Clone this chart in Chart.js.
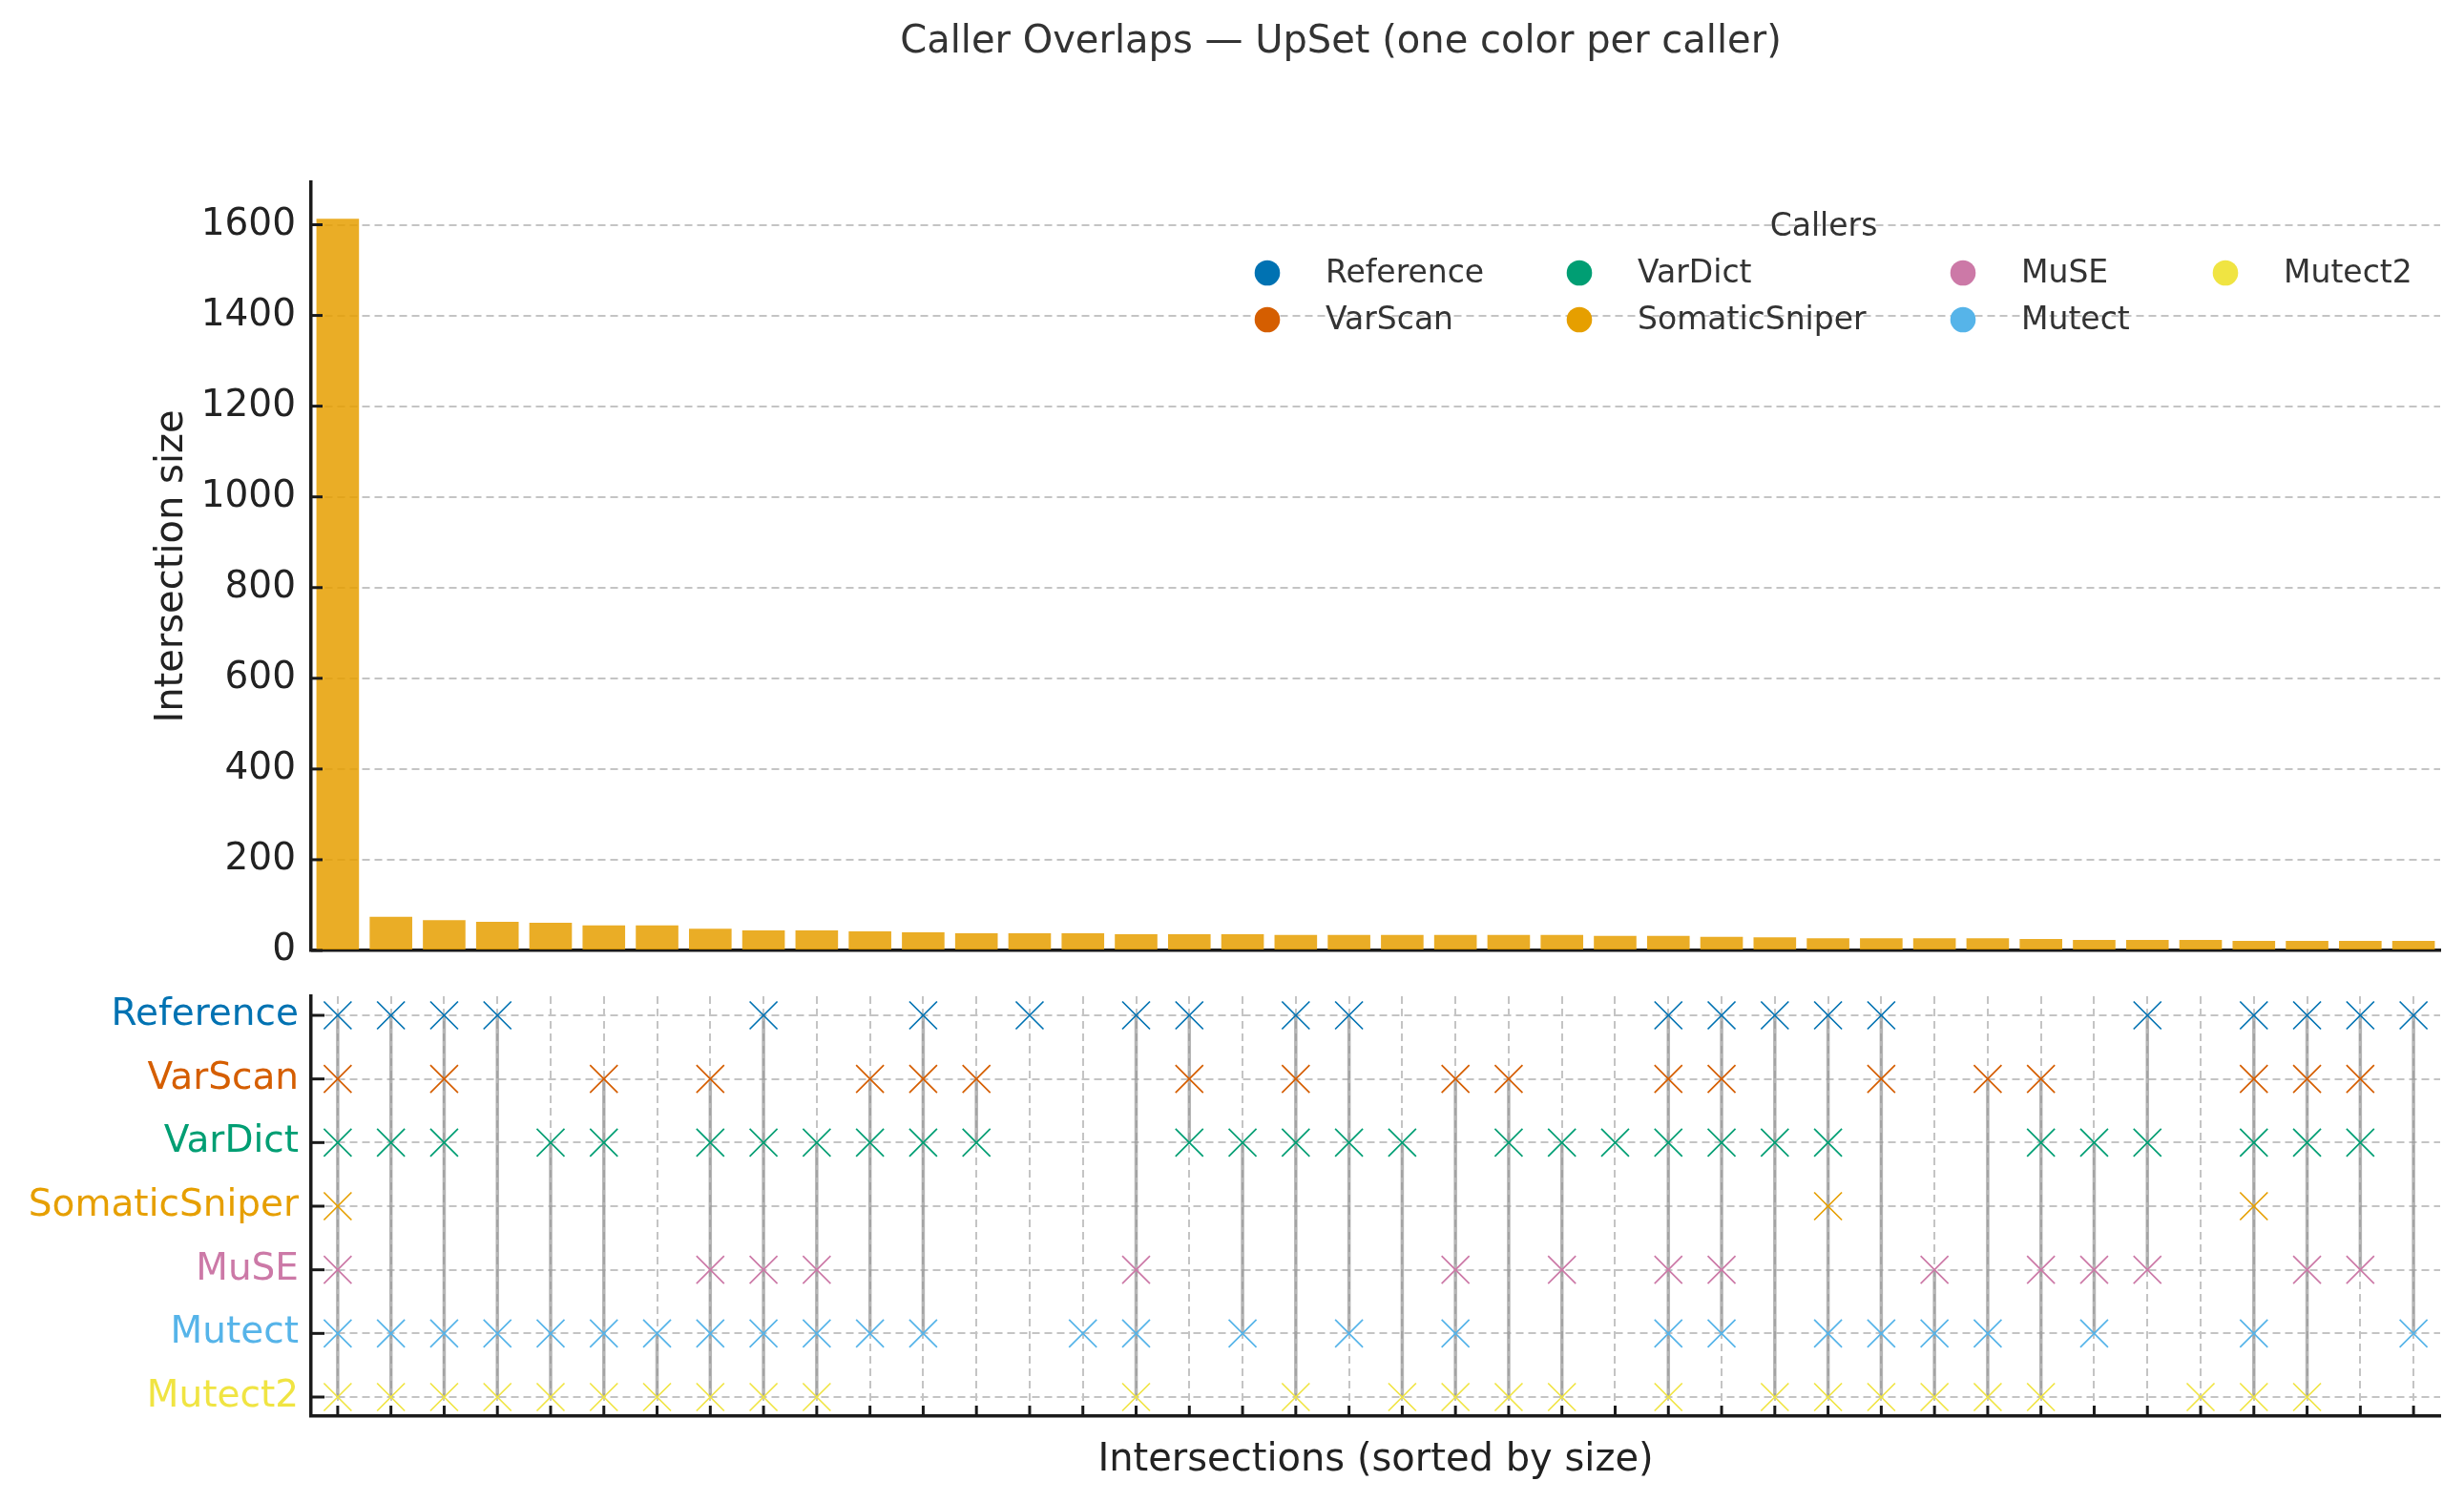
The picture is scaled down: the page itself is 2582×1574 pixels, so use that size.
<!DOCTYPE html>
<html>
<head>
<meta charset="utf-8">
<script src="https://cdn.jsdelivr.net/npm/chart.js@4.4.1/dist/chart.umd.min.js"></script>
<style>
  html, body { margin: 0; padding: 0; background: #ffffff; }
  #wrap { position: relative; width: 2582px; height: 1574px; overflow: hidden; background: #fff; }
  canvas { position: absolute; left: 0; }
  #bars { top: 0; }
  #matrix { top: 1020px; }
</style>
</head>
<body>
<div id="wrap">
  <canvas id="bars" width="2582" height="1020"></canvas>
  <canvas id="matrix" width="2582" height="554"></canvas>
</div>
<script>
// ---------------- DATA ----------------
const callers = ['Reference', 'VarScan', 'VarDict', 'SomaticSniper', 'MuSE', 'Mutect', 'Mutect2'];
const callerColors = ['#0072B2', '#D55E00', '#009E73', '#E69F00', '#CC79A7', '#56B4E9', '#F0E442'];

// intersection sizes, sorted by size (40 intersections)
const intersectionSizes = [
  1613, 74, 67, 63, 61, 55, 55, 48, 44, 44,
  42, 40, 38, 38, 38, 36, 36, 36, 34, 34,
  34, 34, 34, 34, 32, 32, 30, 29, 27, 27,
  27, 27, 25, 23, 23, 23, 21, 21, 21, 21
];
const yTickValues = [0, 200, 400, 600, 800, 1000, 1200, 1400, 1600];

// membership of each caller in each intersection column (1 = member)
const memReference     = [1,1,1,1,0,0,0,0,1,0, 0,1,0,1,0,1,1,0,1,1, 0,0,0,0,0,1,1,1,1,1, 0,0,0,0,1,0,1,1,1,1];
const memVarScan       = [1,0,1,0,0,1,0,1,0,0, 1,1,1,0,0,0,1,0,1,0, 0,1,1,0,0,1,1,0,0,1, 0,1,1,0,0,0,1,1,1,0];
const memVarDict       = [1,1,1,0,1,1,0,1,1,1, 1,1,1,0,0,0,1,1,1,1, 1,0,1,1,1,1,1,1,1,0, 0,0,1,1,1,0,1,1,1,0];
const memSomaticSniper = [1,0,0,0,0,0,0,0,0,0, 0,0,0,0,0,0,0,0,0,0, 0,0,0,0,0,0,0,0,1,0, 0,0,0,0,0,0,1,0,0,0];
const memMuSE          = [1,0,0,0,0,0,0,1,1,1, 0,0,0,0,0,1,0,0,0,0, 0,1,0,1,0,1,1,0,0,0, 1,0,1,1,1,0,0,1,1,0];
const memMutect        = [1,1,1,1,1,1,1,1,1,1, 1,1,0,0,1,1,0,1,0,1, 0,1,0,0,0,1,1,0,1,1, 1,1,0,1,0,0,1,0,0,1];
const memMutect2       = [1,1,1,1,1,1,1,1,1,1, 0,0,0,0,0,1,0,0,1,0, 1,1,1,1,0,1,0,1,1,1, 1,1,1,0,0,1,1,1,0,0];
const membership = [memReference, memVarScan, memVarDict, memSomaticSniper, memMuSE, memMutect, memMutect2];

// ---------------- STYLE / LAYOUT ----------------
const FONT = "'DejaVu Sans', 'Liberation Sans', sans-serif";
const W = 2582;
const PLOT_LEFT = 326, PLOT_RIGHT = 2557;
const AXIS_COLOR = '#1a1a1a';
const TEXT_COLOR = '#222222';
const GRID_COLOR = '#c4c4c4';
const BAR_COLOR = 'rgba(230,159,0,0.85)';
const LEGEND_COL_X = [1328, 1655, 2057, 2332];
const LEGEND_ROW_Y = [286, 335];

const categoryLabels = intersectionSizes.map((_, i) => 'I' + (i + 1));
const colIndex = intersectionSizes.map((_, i) => i);
const rowIndex = callers.map((_, i) => i);

// fix scale sizes and remove the automatic label overflow paddings
function fixWidth(w) {
  return s => { s.width = w; s.paddingTop = 0; s.paddingBottom = 0; };
}
function fixHeight(h) {
  return s => { s.height = h; s.paddingLeft = 0; s.paddingRight = 0; };
}

// inward tick marks plugin
function inwardTicks(opts) {
  return {
    id: 'inwardTicks' + opts.tag,
    afterDraw(chart) {
      const ctx = chart.ctx, area = chart.chartArea;
      ctx.save();
      ctx.strokeStyle = AXIS_COLOR;
      ctx.lineWidth = 3;
      ctx.setLineDash([]);
      if (opts.y) {
        const s = chart.scales.y;
        s.ticks.forEach(t => {
          const py = s.getPixelForValue(t.value);
          ctx.beginPath();
          ctx.moveTo(area.left, py);
          ctx.lineTo(area.left + opts.y, py);
          ctx.stroke();
        });
      }
      if (opts.x) {
        const s = chart.scales.x;
        s.ticks.forEach(t => {
          const px = s.getPixelForValue(t.value);
          ctx.beginPath();
          ctx.moveTo(px, area.bottom);
          ctx.lineTo(px, area.bottom - opts.x);
          ctx.stroke();
        });
      }
      ctx.restore();
    }
  };
}

// title + legend plugin (drawn on top chart)
const titleLegendPlugin = {
  id: 'titleLegend',
  afterDraw(chart) {
    const ctx = chart.ctx;
    ctx.save();
    // figure title
    ctx.fillStyle = '#333333';
    ctx.font = '40px ' + FONT;
    ctx.textAlign = 'center';
    ctx.textBaseline = 'alphabetic';
    ctx.fillText('Caller Overlaps \u2014 UpSet (one color per caller)', 1405, 55);

    // legend
    ctx.font = '33px ' + FONT;
    ctx.textAlign = 'center';
    ctx.textBaseline = 'middle';
    ctx.fillText('Callers', 1911, 238);
    const nRows = LEGEND_ROW_Y.length;
    ctx.textAlign = 'left';
    callers.forEach((name, k) => {
      const c = Math.floor(k / nRows), r = k % nRows;
      const mx = LEGEND_COL_X[c], my = LEGEND_ROW_Y[r];
      ctx.fillStyle = callerColors[k];
      ctx.beginPath();
      ctx.arc(mx, my, 13.3, 0, Math.PI * 2);
      ctx.fill();
      ctx.fillStyle = '#333333';
      ctx.fillText(name, mx + 61, my + 1);
    });
    ctx.restore();
  }
};

// ---------------- BAR CHART ----------------
new Chart(document.getElementById('bars'), {
  type: 'bar',
  data: {
    labels: categoryLabels,
    datasets: [{
      data: intersectionSizes,
      backgroundColor: BAR_COLOR,
      borderWidth: 0,
      barPercentage: 0.8,
      categoryPercentage: 1.0
    }]
  },
  options: {
    responsive: false,
    animation: false,
    devicePixelRatio: 1,
    layout: { autoPadding: false, padding: { left: 0, right: W - PLOT_RIGHT, top: 191, bottom: 0 } },
    plugins: { legend: { display: false }, tooltip: { enabled: false }, title: { display: false } },
    scales: {
      x: {
        z: 1,
        grid: { display: false, drawTicks: false },
        ticks: { display: false },
        border: { display: true, color: AXIS_COLOR, width: 3.5 },
        afterFit: fixHeight(24)
      },
      y: {
        z: 1,
        min: 0,
        max: Math.max(...intersectionSizes) * 1.05,
        afterBuildTicks: s => { s.ticks = yTickValues.map(v => ({ value: v })); },
        ticks: {
          callback: v => String(v),
          font: { family: FONT, size: 39 },
          color: TEXT_COLOR,
          padding: 16
        },
        grid: { color: GRID_COLOR, lineWidth: 2, drawTicks: false, tickLength: 0 },
        border: { display: true, color: AXIS_COLOR, width: 3.5, dash: [8, 5] },
        title: {
          display: true,
          text: 'Intersection size',
          font: { family: FONT, size: 40 },
          color: TEXT_COLOR,
          padding: { top: 157, bottom: 0 }
        },
        afterFit: fixWidth(PLOT_LEFT)
      }
    }
  },
  plugins: [inwardTicks({ tag: 'bars', y: 12 }), titleLegendPlugin]
});

// ---------------- MATRIX ----------------
const markerDatasets = callers.map((name, r) => ({
  type: 'scatter',
  label: name,
  data: membership[r].map((m, c) => (m ? { x: c, y: r } : null)).filter(p => p !== null),
  pointStyle: 'crossRot',
  pointRadius: 20.5,
  pointBorderWidth: 1.7,
  borderColor: callerColors[r],
  backgroundColor: callerColors[r],
  showLine: false,
  order: 0
}));

const connectorDatasets = [];
colIndex.forEach(c => {
  const rows = rowIndex.filter(r => membership[r][c]);
  if (rows.length > 1) {
    connectorDatasets.push({
      type: 'line',
      data: [{ x: c, y: Math.min(...rows) }, { x: c, y: Math.max(...rows) }],
      borderColor: 'rgba(150,150,150,0.7)',
      borderWidth: 3.5,
      pointRadius: 0,
      fill: false,
      order: 1
    });
  }
});

new Chart(document.getElementById('matrix'), {
  type: 'scatter',
  data: { datasets: connectorDatasets.concat(markerDatasets) },
  options: {
    responsive: false,
    animation: false,
    devicePixelRatio: 1,
    layout: { autoPadding: false, padding: { left: 0, right: W - PLOT_RIGHT, top: 24, bottom: 0 } },
    plugins: { legend: { display: false }, tooltip: { enabled: false } },
    scales: {
      x: {
        type: 'linear',
        min: -0.5,
        max: intersectionSizes.length - 0.5,
        afterBuildTicks: s => { s.ticks = colIndex.map(v => ({ value: v })); },
        ticks: { display: false },
        grid: { color: GRID_COLOR, lineWidth: 2, drawTicks: false, tickLength: 0 },
        border: { display: true, color: AXIS_COLOR, width: 3.5, dash: [8, 5] },
        title: {
          display: true,
          text: 'Intersections (sorted by size)',
          font: { family: FONT, size: 40 },
          color: TEXT_COLOR,
          padding: { top: 0, bottom: 19 }
        },
        afterFit: fixHeight(90)
      },
      y: {
        type: 'linear',
        reverse: true,
        min: -0.3,
        max: callers.length - 1 + 0.3,
        afterBuildTicks: s => { s.ticks = rowIndex.map(v => ({ value: v })); },
        ticks: {
          callback: v => callers[v],
          color: ctx => callerColors[ctx.tick ? ctx.tick.value : ctx.index],
          font: { family: FONT, size: 39 },
          padding: 13
        },
        grid: { color: GRID_COLOR, lineWidth: 2, drawTicks: false, tickLength: 0 },
        border: { display: true, color: AXIS_COLOR, width: 3.5, dash: [8, 5] },
        afterFit: fixWidth(PLOT_LEFT)
      }
    }
  },
  plugins: [inwardTicks({ tag: 'matrix', y: 14, x: 11 })]
});
</script>
</body>
</html>
